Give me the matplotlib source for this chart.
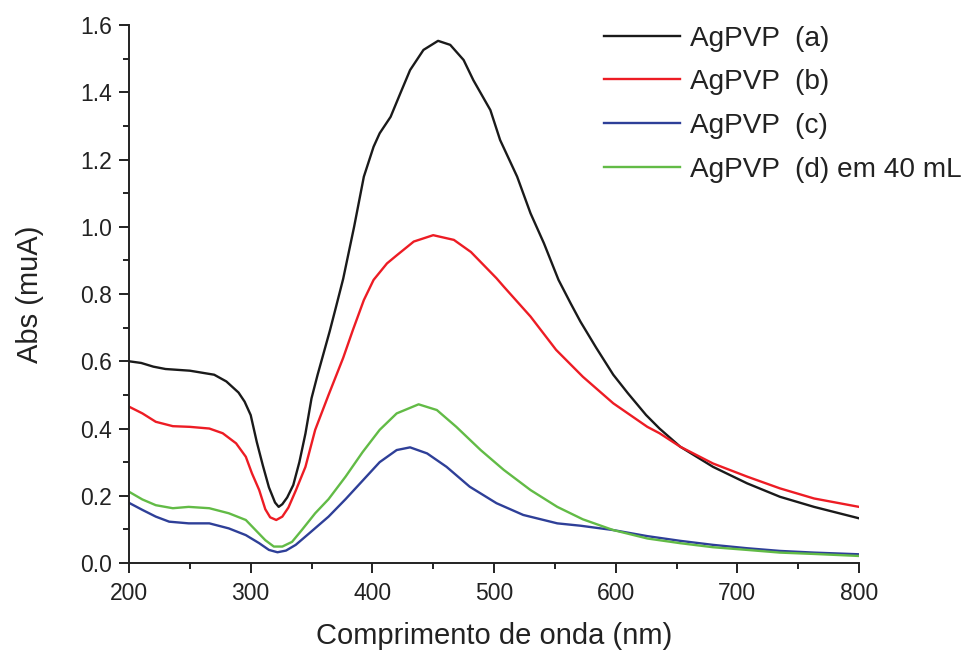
import numpy as np
import matplotlib
matplotlib.use('Agg')
import matplotlib.pyplot as plt
from matplotlib.ticker import MultipleLocator

plt.rcParams['font.family'] = ['Liberation Sans', 'DejaVu Sans']

# AgPVP (a)
wl_a = [200, 210, 220, 230, 250, 270, 280, 290, 295, 300, 305, 310, 315, 320, 323,
        326, 330, 335, 340, 345, 350, 355, 360, 365, 370, 376, 385, 393, 401, 406,
        415, 423, 431, 442, 454, 464, 475, 483, 497, 505, 519, 530, 541, 553, 563,
        571, 584, 598, 610, 625, 636, 653, 680, 708, 735, 763, 800]
abs_a = [0.600, 0.595, 0.584, 0.577, 0.572, 0.560, 0.540, 0.507, 0.480, 0.440, 0.360,
         0.290, 0.225, 0.180, 0.167, 0.175, 0.195, 0.232, 0.300, 0.385, 0.490, 0.560,
         0.625, 0.690, 0.760, 0.845, 1.000, 1.149, 1.238, 1.278, 1.327, 1.397, 1.466,
         1.526, 1.553, 1.541, 1.496, 1.436, 1.347, 1.258, 1.149, 1.040, 0.951, 0.842,
         0.772, 0.718, 0.640, 0.560, 0.505, 0.440, 0.400, 0.346, 0.286, 0.237, 0.197,
         0.167, 0.133]

# AgPVP (b)
wl_b = [200, 211, 222, 236, 250, 266, 277, 288, 296, 301, 307, 312, 316, 321, 326,
        331, 337, 345, 353, 364, 376, 384, 393, 401, 412, 420, 434, 450, 467, 481,
        502, 508, 530, 551, 573, 598, 626, 636, 653, 680, 708, 735, 763, 800]
abs_b = [0.465, 0.445, 0.420, 0.407, 0.405, 0.400, 0.386, 0.356, 0.316, 0.267, 0.217,
         0.160, 0.136, 0.128, 0.138, 0.165, 0.215, 0.286, 0.396, 0.500, 0.610, 0.693,
         0.782, 0.842, 0.891, 0.915, 0.956, 0.975, 0.961, 0.925, 0.847, 0.822, 0.733,
         0.634, 0.554, 0.475, 0.405, 0.386, 0.346, 0.296, 0.257, 0.222, 0.192, 0.167]

# AgPVP (c)
wl_c = [200, 211, 222, 233, 249, 266, 282, 296, 307, 315, 322, 329, 337, 348, 364,
        378, 392, 406, 420, 431, 445, 461, 480, 502, 524, 552, 571, 598, 626, 653,
        680, 708, 735, 763, 800]
abs_c = [0.179, 0.158, 0.138, 0.123, 0.118, 0.118, 0.103, 0.083, 0.059, 0.039, 0.032,
         0.037, 0.054, 0.088, 0.138, 0.190, 0.245, 0.300, 0.336, 0.344, 0.326, 0.286,
         0.227, 0.178, 0.143, 0.118, 0.111, 0.098, 0.080, 0.066, 0.054, 0.044, 0.036,
         0.031, 0.026]

# AgPVP (d) em 40 mL
wl_d = [200, 211, 222, 236, 249, 266, 282, 296, 304, 312, 319, 326, 334, 342, 353,
        364, 378, 392, 406, 420, 438, 453, 469, 489, 508, 530, 552, 573, 598, 626,
        653, 680, 708, 735, 763, 800]
abs_d = [0.212, 0.189, 0.172, 0.163, 0.167, 0.163, 0.148, 0.128, 0.098, 0.068, 0.049,
         0.049, 0.063, 0.098, 0.148, 0.190, 0.257, 0.330, 0.396, 0.445, 0.472, 0.455,
         0.405, 0.336, 0.277, 0.217, 0.167, 0.130, 0.098, 0.073, 0.059, 0.047, 0.039,
         0.031, 0.027, 0.021]

labels = ['AgPVP  (a)', 'AgPVP  (b)', 'AgPVP  (c)', 'AgPVP  (d) em 40 mL']
colors = ['#1a1a1a', '#ed1c24', '#2e3f98', '#62bb46']

fig = plt.figure(figsize=(9.65, 6.5), dpi=100)
ax = fig.add_axes([0.1337, 0.1338, 0.7565, 0.8277])

series = [(wl_a, abs_a), (wl_b, abs_b), (wl_c, abs_c), (wl_d, abs_d)]
for (wl, ab), lab, col in zip(series, labels, colors):
    ax.plot(wl, ab, color=col, lw=1.7, label=lab)

ax.set_xlim(200, 800)
ax.set_ylim(0, 1.6)
ax.xaxis.set_major_locator(MultipleLocator(100))
ax.xaxis.set_minor_locator(MultipleLocator(50))
ax.yaxis.set_major_locator(MultipleLocator(0.2))
ax.yaxis.set_minor_locator(MultipleLocator(0.1))
ax.yaxis.set_major_formatter(matplotlib.ticker.FormatStrFormatter('%.1f'))

for s in ['top', 'right']:
    ax.spines[s].set_visible(False)
for s in ['left', 'bottom']:
    ax.spines[s].set_linewidth(1.4)
    ax.spines[s].set_color('#222222')

ax.tick_params(which='major', direction='out', length=7, width=1.4,
               labelsize=16.5, colors='#222222', pad=5)
ax.tick_params(axis='x', which='major', pad=7)
ax.tick_params(which='minor', direction='out', length=4, width=1.4, colors='#222222')

ax.set_xlabel('Comprimento de onda (nm)', fontsize=21, color='#222222', labelpad=12)
ax.set_ylabel('Abs (muA)', fontsize=21, color='#222222', labelpad=26)

leg = ax.legend(loc='upper left', bbox_to_anchor=(0.651, 0.999), frameon=False,
                fontsize=20.2, handlelength=2.7, handletextpad=0.35,
                labelspacing=0.63, borderpad=0, borderaxespad=0)
for t in leg.get_texts():
    t.set_color('#222222')

fig.savefig('out.png', dpi=100)
